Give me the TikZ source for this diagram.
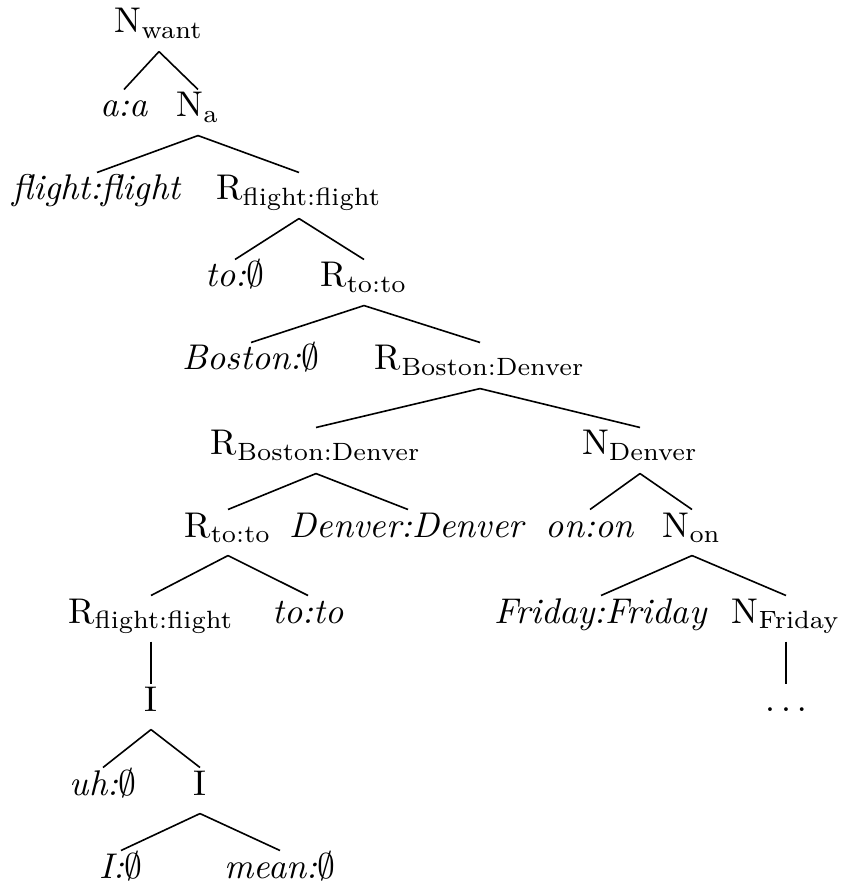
\documentclass[tikz,border=0pt]{standalone}
\begin{document}
\begin{tikzpicture}[x=0.28pt,y=-0.28pt,
  lab/.style={anchor=base, inner sep=0.7pt, text height=6.8pt, text depth=4.3pt},
  edge/.style={line width=0.45pt}]
\useasboundingbox (0,0) rectangle (840,884);
% row 0
\node[lab] (nwant) at (159,33) {N\textsubscript{want}};
% row 1
\node[lab] (aa) at (124,117) {\textit{a:a}};
\node[lab] (na) at (198,117) {N\textsubscript{a}};
% row 2
\node[lab] (ff) at (97,200) {\textit{flight:flight}};
\node[lab] (rff) at (299,200) {R\textsubscript{flight:flight}};
% row 3
\node[lab] (toe) at (235,287) {\textit{to:}$\emptyset$};
\node[lab] (rtt) at (364,287) {R\textsubscript{to:to}};
% row 4
\node[lab] (boe) at (251,370) {\textit{Boston:}$\emptyset$};
\node[lab] (rbd) at (480,370) {R\textsubscript{Boston:Denver}};
% row 5
\node[lab] (rbd2) at (316,455) {R\textsubscript{Boston:Denver}};
\node[lab] (nden) at (640,455) {N\textsubscript{Denver}};
% row 6
\node[lab] (rtt2) at (228,537) {R\textsubscript{to:to}};
\node[lab] (dd) at (408,537) {\textit{Denver:Denver}};
\node[lab] (onon) at (590,537) {\textit{on:on}};
\node[lab] (non) at (692,537) {N\textsubscript{on}};
% row 7
\node[lab] (rff2) at (151,623) {R\textsubscript{flight:flight}};
\node[lab] (toto) at (308,623) {\textit{to:to}};
\node[lab] (frfr) at (601,623) {\textit{Friday:Friday}};
\node[lab] (nfri) at (786,623) {N\textsubscript{Friday}};
% row 8
\node[lab] (i1) at (151,711) {I};
\node[lab] (dots) at (786,711) {$\dots$};
% row 9
\node[lab] (uhe) at (103,795) {\textit{uh:}$\emptyset$};
\node[lab] (i2) at (200,795) {I};
% row 10
\node[lab] (ie) at (121,878) {\textit{I:}$\emptyset$};
\node[lab] (meane) at (280,878) {\textit{mean:}$\emptyset$};
% edges
\draw[edge] (nwant.south) -- (aa.north);
\draw[edge] (nwant.south) -- (na.north);
\draw[edge] (na.south) -- (ff.north);
\draw[edge] (na.south) -- (rff.north);
\draw[edge] (rff.south) -- (toe.north);
\draw[edge] (rff.south) -- (rtt.north);
\draw[edge] (rtt.south) -- (boe.north);
\draw[edge] (rtt.south) -- (rbd.north);
\draw[edge] (rbd.south) -- (rbd2.north);
\draw[edge] (rbd.south) -- (nden.north);
\draw[edge] (rbd2.south) -- (rtt2.north);
\draw[edge] (rbd2.south) -- (dd.north);
\draw[edge] (nden.south) -- (onon.north);
\draw[edge] (nden.south) -- (non.north);
\draw[edge] (rtt2.south) -- (rff2.north);
\draw[edge] (rtt2.south) -- (toto.north);
\draw[edge] (non.south) -- (frfr.north);
\draw[edge] (non.south) -- (nfri.north);
\draw[edge] (rff2.south) -- (i1.north);
\draw[edge] (nfri.south) -- (dots.north);
\draw[edge] (i1.south) -- (uhe.north);
\draw[edge] (i1.south) -- (i2.north);
\draw[edge] (i2.south) -- (ie.north);
\draw[edge] (i2.south) -- (meane.north);
\end{tikzpicture}
\end{document}
